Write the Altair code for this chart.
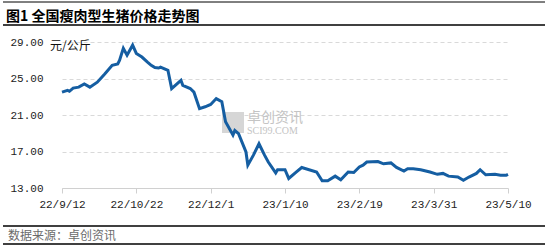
import altair as alt
import pandas as pd

# ---- data ----
dates = [
    "2022-09-12", "2022-09-15", "2022-09-16", "2022-09-18", "2022-09-21", "2022-09-24",
    "2022-09-27", "2022-10-01", "2022-10-05", "2022-10-09", "2022-10-12", "2022-10-13",
    "2022-10-15", "2022-10-17", "2022-10-20", "2022-10-22", "2022-10-25", "2022-10-28",
    "2022-10-30", "2022-11-01", "2022-11-03", "2022-11-04", "2022-11-08", "2022-11-10",
    "2022-11-15", "2022-11-16", "2022-11-20", "2022-11-22", "2022-11-25", "2022-11-28",
    "2022-12-01", "2022-12-04", "2022-12-07", "2022-12-09", "2022-12-13", "2022-12-14",
    "2022-12-16", "2022-12-20", "2022-12-21", "2022-12-24", "2022-12-27", "2022-12-30",
    "2023-01-01", "2023-01-05", "2023-01-06", "2023-01-10", "2023-01-12", "2023-01-16",
    "2023-01-19", "2023-01-27", "2023-01-30", "2023-02-02", "2023-02-06", "2023-02-09",
    "2023-02-13", "2023-02-16", "2023-02-19", "2023-02-21", "2023-02-23", "2023-03-01",
    "2023-03-04", "2023-03-08", "2023-03-11", "2023-03-15", "2023-03-17", "2023-03-20",
    "2023-03-24", "2023-03-29", "2023-04-02", "2023-04-05", "2023-04-08", "2023-04-13",
    "2023-04-16", "2023-04-19", "2023-04-23", "2023-04-25", "2023-04-28", "2023-05-03",
    "2023-05-06", "2023-05-09", "2023-05-10",
]
prices = [
    23.5, 23.7, 23.6, 23.95, 24.05, 24.4,
    24.05, 24.6, 25.5, 26.45, 26.6, 27.0,
    28.3, 27.55, 28.65, 27.75, 27.35, 26.8,
    26.45, 26.2, 26.15, 26.25, 25.9, 23.9,
    24.8, 24.25, 23.9, 23.5, 21.7, 21.9,
    22.15, 22.8, 22.45, 20.25, 18.8, 19.3,
    18.95, 16.95, 15.5, 16.6, 17.85, 16.6,
    15.85, 14.65, 15.0, 15.0, 14.05, 14.75,
    15.25, 14.75, 13.8, 13.8, 14.3, 13.9,
    14.75, 14.7, 15.3, 15.5, 15.85, 15.9,
    15.65, 15.75, 15.25, 14.85, 15.1, 15.1,
    15.0, 14.75, 14.5, 14.6, 14.3, 14.2,
    13.85, 14.2, 14.6, 15.0, 14.45, 14.5,
    14.4, 14.4, 14.5,
]
x_ticks = ["2022-09-12", "2022-10-22", "2022-12-01", "2023-01-10",
           "2023-02-19", "2023-03-31", "2023-05-10"]
y_ticks = [13, 17, 21, 25, 29]

title_text = "图1  全国瘦肉型生猪价格走势图"
unit_text = "元/公斤"
source_text = "数据来源：卓创资讯"
wm_cn = "卓创资讯"
wm_en = "SCI99.COM"

# ---- build ----
df = pd.DataFrame({"date": dates, "price": prices})
one = pd.DataFrame({"k": [0]})

tick_ms = [int(pd.Timestamp(s, tz="UTC").value // 10**6) for s in x_ticks]

W, H = 446, 146
LEFT, TOP = 62, 42
TOTAL_W, TOTAL_H = 548, 247

line = alt.Chart(df).mark_line(color="#155EA2", strokeWidth=3).encode(
    x=alt.X(
        "date:T",
        scale=alt.Scale(type="utc", domain=[tick_ms[0], tick_ms[-1]]),
        axis=alt.Axis(
            values=tick_ms,
            labelExpr="utcFormat(datum.value, '%y/%-m/%-d')",
            grid=False,
            domainColor="#d0d0d0",
            tickColor="#d0d0d0",
            tickSize=5,
            labelFont="Liberation Mono",
            labelFontSize=11,
            labelColor="#222222",
            labelPadding=5,
            labelFlush=False,
            labelOverlap=False,
            title=None,
        ),
    ),
    y=alt.Y(
        "price:Q",
        scale=alt.Scale(domain=[13, 29], nice=False, zero=False),
        axis=alt.Axis(
            values=y_ticks,
            format=".2f",
            grid=True,
            gridDash=[4, 3],
            gridColor="#d9d9d9",
            domain=False,
            ticks=False,
            labelFont="Liberation Mono",
            labelFontSize=11,
            labelColor="#222222",
            labelPadding=19,
            title=None,
        ),
    ),
)

def rule(x1, x2, y, width=1):
    return alt.Chart(one).mark_rule(color="black", strokeWidth=width).encode(
        x=alt.value(x1), x2=alt.value(x2), y=alt.value(y)
    )

left_edge = 3 - LEFT
right_edge = 545 - LEFT

top_rule = rule(left_edge, right_edge, 2 - TOP, 1)
title_rule = rule(left_edge, right_edge, 25 - TOP, 1.5)
src_rule1 = rule(left_edge, right_edge, 226 - TOP, 1.5)
src_rule2 = rule(left_edge, right_edge, 244 - TOP, 1.5)

title = alt.Chart(one).mark_text(
    text=title_text, align="left", baseline="middle",
    font="Noto Sans CJK SC", fontWeight="bold", fontSize=14, color="black",
).encode(x=alt.value(6 - LEFT), y=alt.value(17 - TOP))

unit = alt.Chart(one).mark_text(
    text=unit_text, align="left", baseline="middle",
    font="Noto Sans CJK SC", fontSize=12, color="#111111",
).encode(x=alt.value(50 - LEFT), y=alt.value(46 - TOP))

source = alt.Chart(one).mark_text(
    text=source_text, align="left", baseline="middle",
    font="Noto Sans CJK SC", fontSize=12, color="#6b6b6b",
).encode(x=alt.value(8 - LEFT), y=alt.value(236 - TOP))

wm_logo = alt.Chart(one).mark_rect(color="#d6d6d6").encode(
    x=alt.value(222 - LEFT), x2=alt.value(244 - LEFT),
    y=alt.value(112 - TOP), y2=alt.value(133 - TOP),
)
wm_text_cn = alt.Chart(one).mark_text(
    text=wm_cn, align="left", baseline="middle",
    font="Noto Sans CJK SC", fontSize=14, color="#c4c4c4",
).encode(x=alt.value(247 - LEFT), y=alt.value(118 - TOP))
wm_text_en = alt.Chart(one).mark_text(
    text=wm_en, align="left", baseline="middle",
    font="Liberation Serif", fontSize=10, color="#c4c4c4",
).encode(x=alt.value(247 - LEFT), y=alt.value(131 - TOP))

chart = alt.layer(
    wm_logo, wm_text_cn, wm_text_en, line,
    top_rule, title_rule, src_rule1, src_rule2, title, unit, source,
).properties(
    width=W, height=H,
    autosize="none",
    padding={"left": LEFT, "top": TOP, "right": TOTAL_W - LEFT - W, "bottom": TOTAL_H - TOP - H},
    background="white",
).configure_view(stroke=None)

chart.save("out.html", embed_options={"renderer": "svg", "actions": False})
